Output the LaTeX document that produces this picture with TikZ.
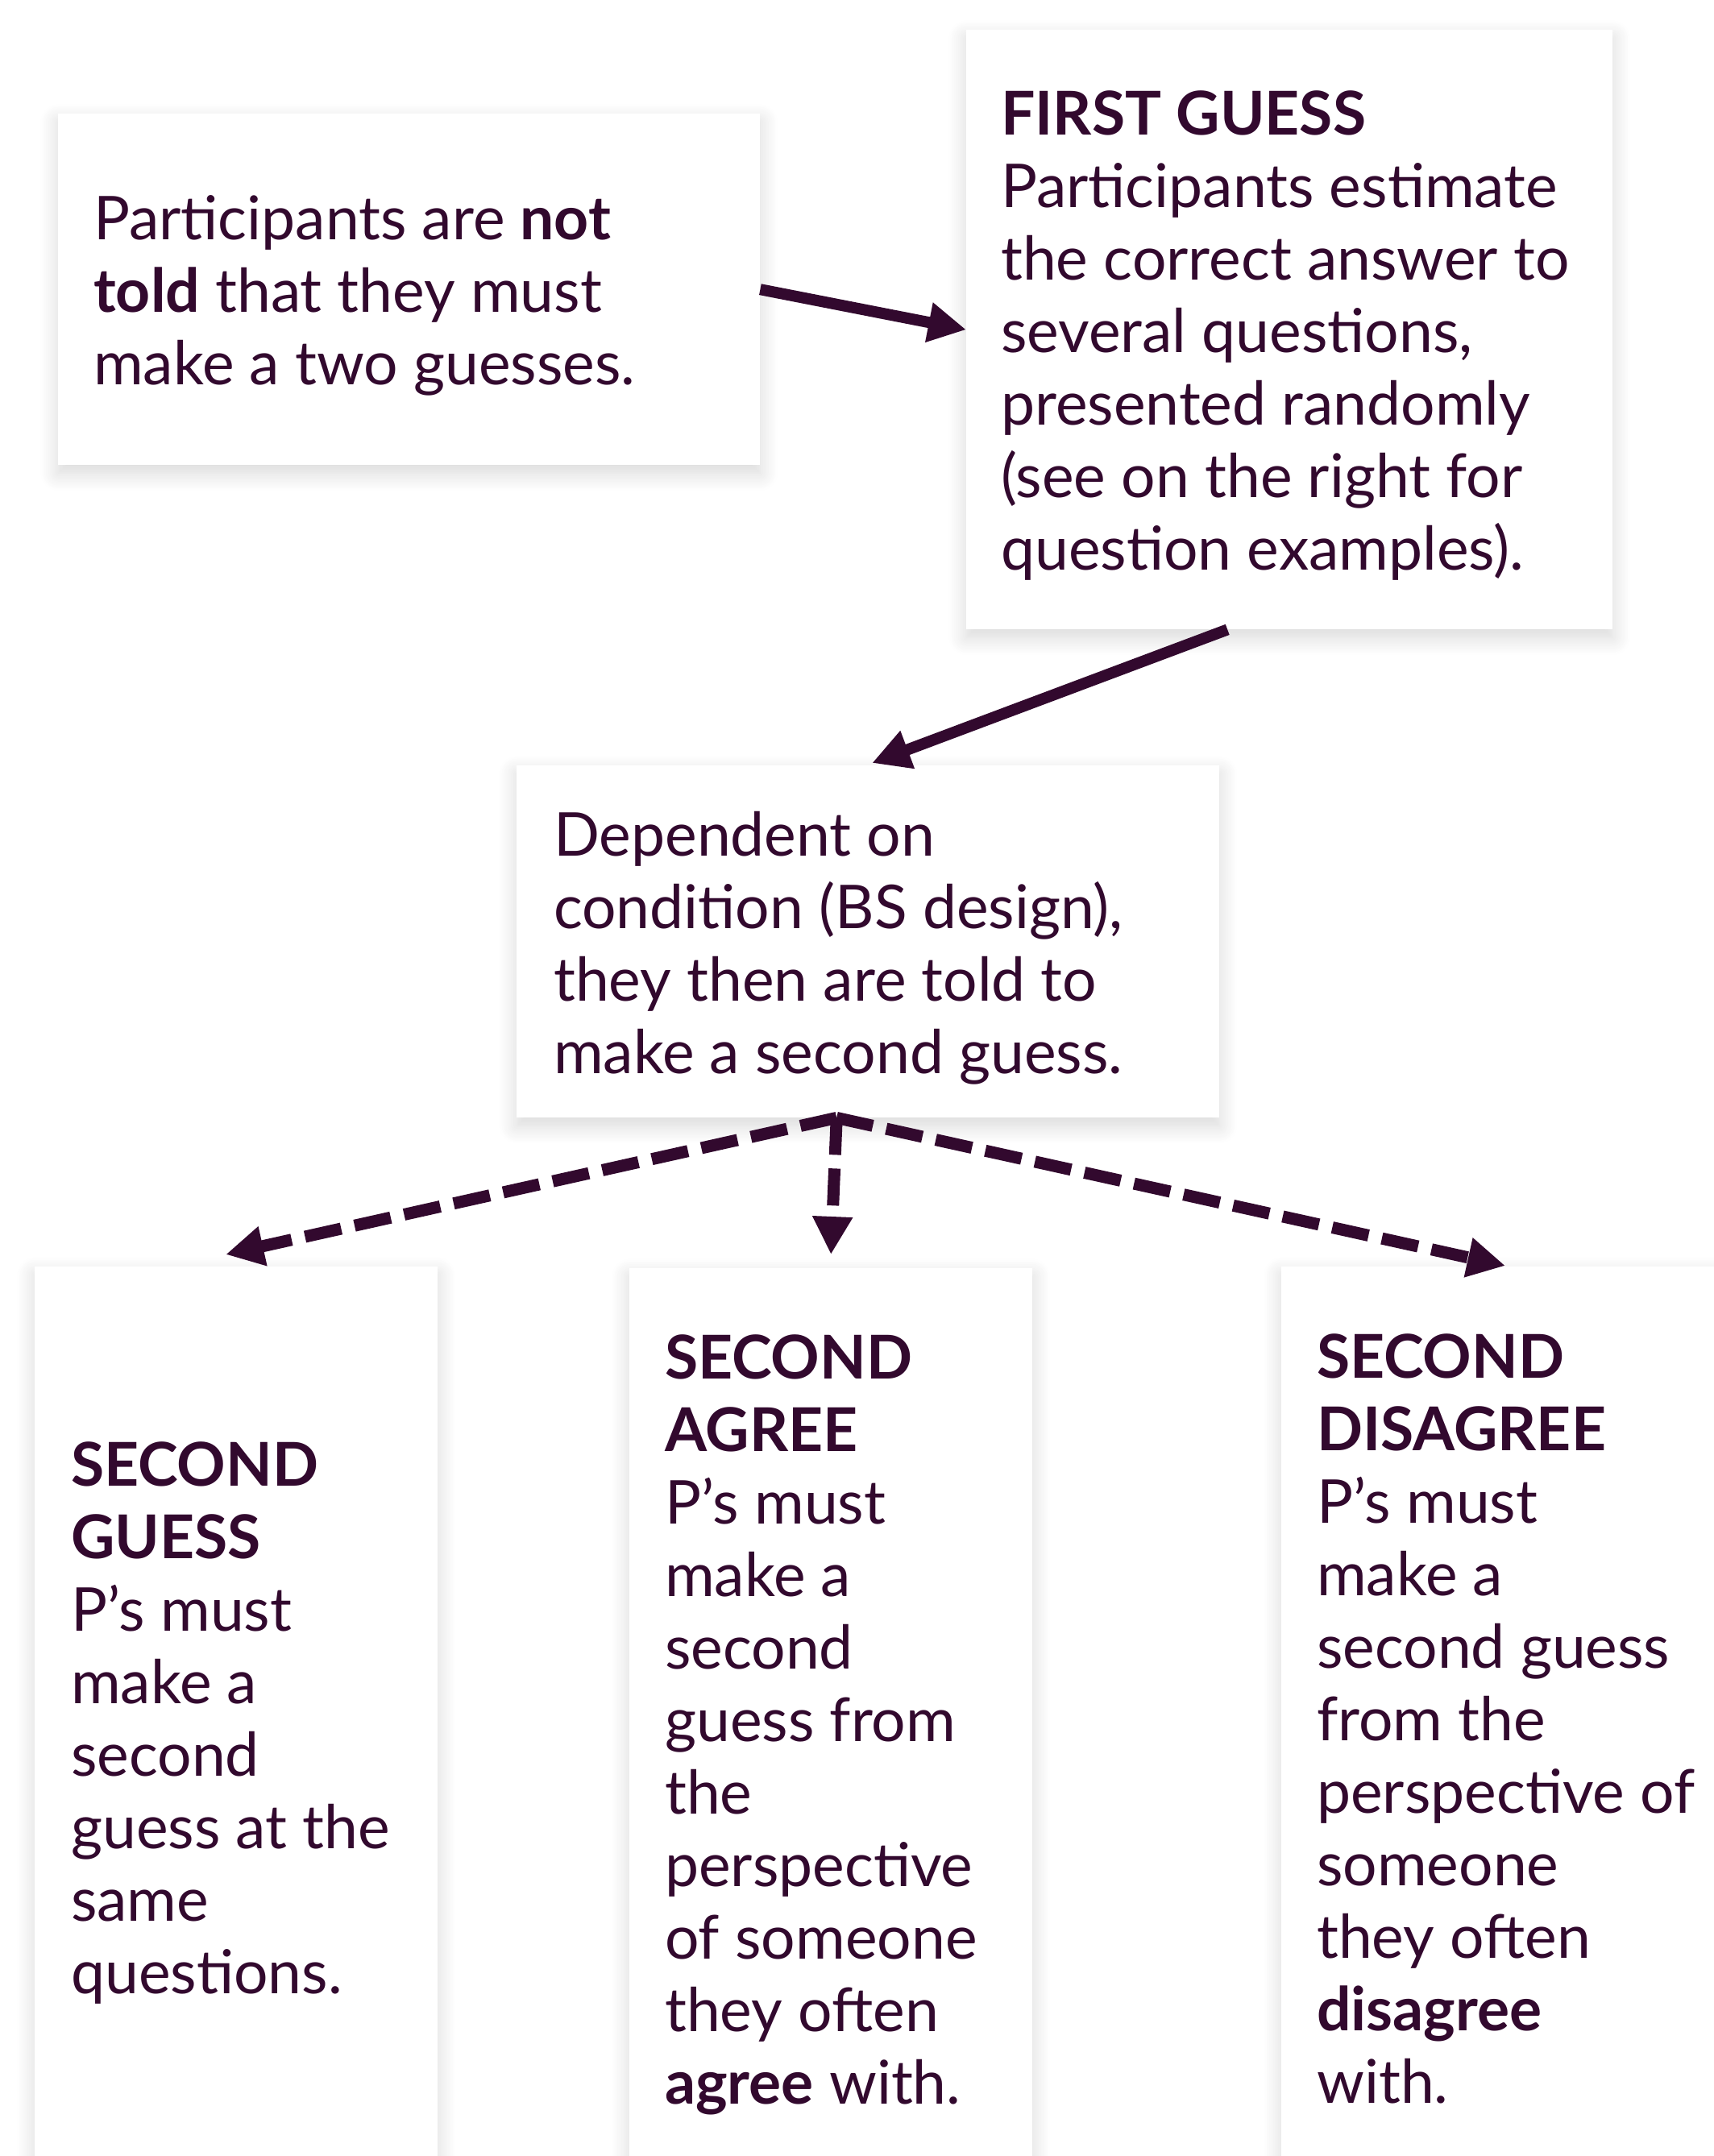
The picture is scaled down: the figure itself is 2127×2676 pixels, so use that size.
\documentclass[tikz,border=0pt]{standalone}
\usepackage{fontspec}
\setmainfont{Lato}
\usetikzlibrary{arrows.meta,shadows.blur}
\definecolor{ink}{HTML}{32092E}
\tikzset{
  box/.style={draw=none, fill=white, inner sep=0pt, anchor=north west,
    blur shadow={shadow xshift=0pt, shadow yshift=-10pt, shadow blur radius=22pt,
      shadow opacity=16, shadow blur steps=14}},
  txt/.style={anchor=north west, inner sep=0pt, align=left, text=ink,
    font=\fontsize{75}{90}\selectfont},
  solidarrow/.style={draw=ink, line width=14pt, -{Triangle[length=47pt,width=47pt]}},
  dasharrow/.style={draw=ink, line width=15pt, dash pattern=on 46pt off 17pt,
    -{Triangle[length=47pt,width=47pt]}},
}
\begin{document}
\begin{tikzpicture}[x=1pt,y=-1pt]
\useasboundingbox (0,0) rectangle (2127,2676);
% boxes
\node[box, minimum width=871pt, minimum height=436pt] (A) at (72,141) {};
\node[box, minimum width=802pt, minimum height=744pt] (B) at (1199,37) {};
\node[box, minimum width=872pt, minimum height=437pt] (C) at (641,950) {};
\node[box, minimum width=500pt, minimum height=1200pt] (D) at (43,1572) {};
\node[box, minimum width=500pt, minimum height=1200pt] (E) at (781,1574) {};
\node[box, minimum width=600pt, minimum height=1200pt] (F) at (1590,1572) {};
% texts
\node[txt] (At) at (116,234) {\strut Participants are \textbf{not}\\\textbf{told} that they must\\make a two guesses.};
\node[txt] (Bt) at (1242,104) {\strut\textbf{FIRST GUESS}\\Participants estimate\\the correct answer to\\several questions,\\presented randomly\\(see on the right for\\question examples).};
\node[txt] (Ct) at (687,999) {\strut Dependent on\\condition (BS design),\\they then are told to\\make a second guess.};
\node[txt] (Dt) at (88,1781) {\strut\textbf{SECOND}\\\textbf{GUESS}\\P’s must\\make a\\second\\guess at the\\same\\questions.};
\node[txt] (Et) at (825,1648) {\strut\textbf{SECOND}\\\textbf{AGREE}\\P’s must\\make a\\second\\guess from\\the\\perspective\\of someone\\they often\\\textbf{agree} with.};
\node[txt] (Ft) at (1634,1647) {\strut\textbf{SECOND}\\\textbf{DISAGREE}\\P’s must\\make a\\second guess\\from the\\perspective of\\someone\\they often\\\textbf{disagree}\\with.};
% connectors
\draw[solidarrow] (A.east) -- (B.west);
\draw[solidarrow] ([xshift=-77pt]B.south) -- ([xshift=5pt,yshift=3pt]C.north);
\draw[dasharrow] ([xshift=-39pt]C.south) -- ([xshift=-13pt,yshift=15pt]D.north);
\draw[dasharrow] ([xshift=-39pt]C.south) -- ([yshift=17pt]E.north);
\draw[dasharrow] ([xshift=-39pt]C.south) -- ([xshift=278pt,yshift=1pt]F.north west);
\end{tikzpicture}
\end{document}
